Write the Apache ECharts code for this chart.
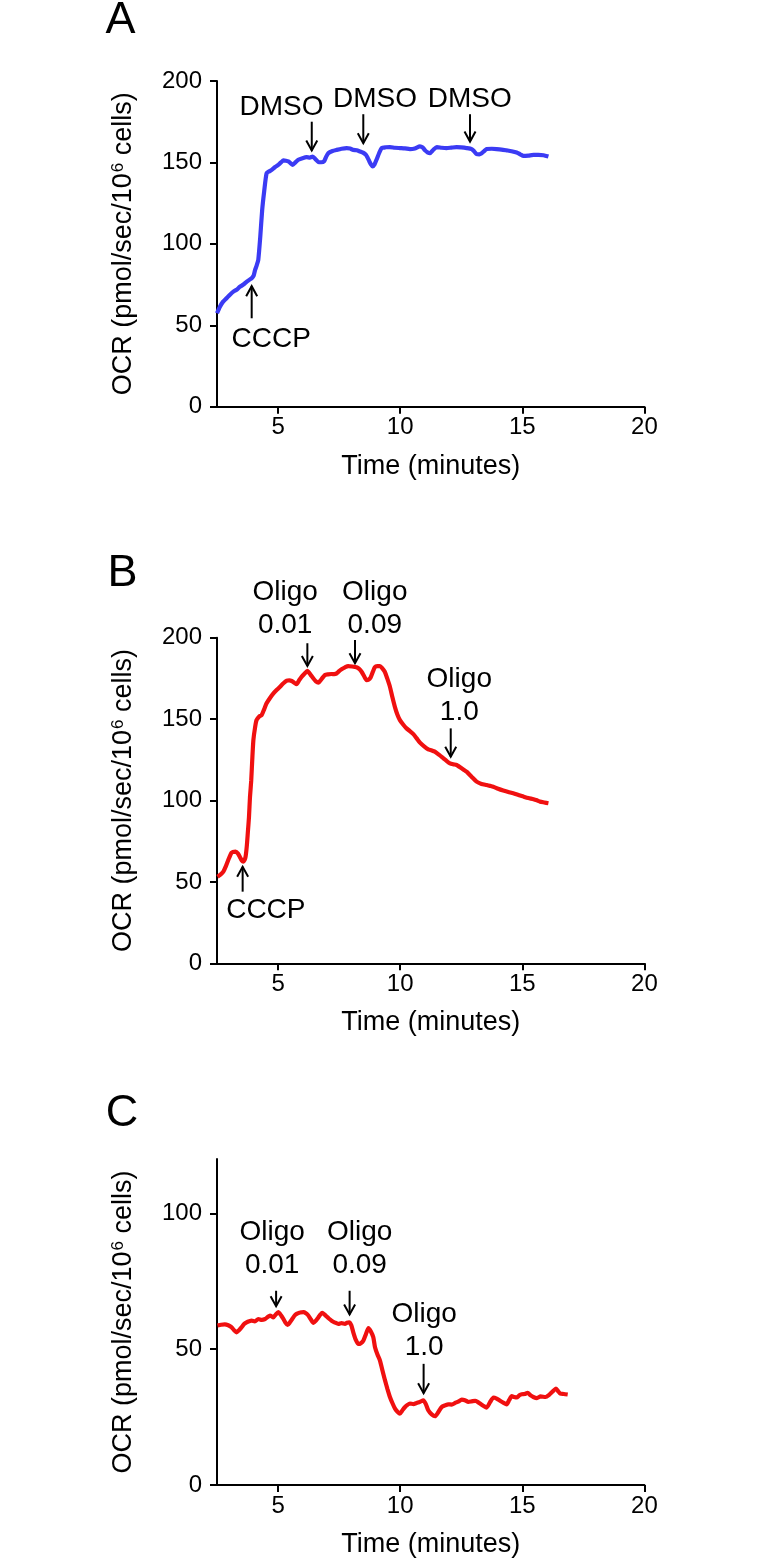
<!DOCTYPE html>
<html>
<head>
<meta charset="utf-8">
<script src="https://cdn.jsdelivr.net/npm/echarts@6/dist/echarts.min.js"></script>
<style>
html,body{margin:0;padding:0;background:#fff;}
#chart{width:770px;height:1567px;}
</style>
</head>
<body>
<div id="chart"></div>
<script>
// ---------- Data (time in minutes, OCR in pmol/sec/10^6 cells) ----------
const timeA = [2.5,2.62,2.75,2.89,3.03,3.17,3.30,3.44,3.58,3.72,
 3.85,3.92,4.0,4.06,4.13,4.19,4.27,4.35,4.43,4.53,
 4.64,4.74,4.88,5.01,5.12,5.22,5.32,5.42,5.51,5.60,
 5.71,5.83,6.0,6.17,6.30,6.42,6.53,6.65,6.77,6.88,
 6.97,7.06,7.23,7.40,7.60,7.81,7.95,8.08,8.22,8.36,
 8.48,8.60,8.67,8.74,8.81,8.87,8.95,9.04,9.14,9.24,
 9.41,9.58,9.78,9.99,10.2,10.40,10.6,10.81,10.92,11.02,
 11.12,11.22,11.36,11.5,11.7,11.9,12.1,12.31,12.5,12.72,
 12.93,13.03,13.13,13.24,13.34,13.44,13.54,13.75,13.95,14.15,
 14.36,14.56,14.77,14.91,15.05,15.25,15.46,15.66,15.87,16.07];
const ocrA = [57.4,61.4,64.5,66.6,68.8,70.7,71.8,73.7,75.0,76.8,
 78.2,78.9,80.5,84,87,90.1,104,120.8,132,143.4,
 144.5,145.4,147.2,148.5,150.0,151.2,151.0,150.6,149.6,148.5,
 150.0,151.6,152.6,153.2,153.0,153.6,152.0,150.2,150.1,150.6,
 153.5,155.7,157.0,157.7,158.4,158.8,158.5,157.7,157.5,156.7,
 156.0,154.6,152.8,150.6,148.6,147.5,148.8,152.0,155.8,158.8,
 159.3,159.4,159.0,158.8,158.6,158.2,158.6,159.9,159.2,157.4,
 156.2,155.7,157.8,159.4,159.0,158.8,159.1,159.4,159.2,158.8,
 158.2,156.8,155.1,155.0,155.7,157.0,158.2,158.4,158.2,157.9,
 157.4,156.9,156.1,155.0,154.0,154.2,154.6,154.6,154.4,153.6];

const timeB = [2.52,2.64,2.76,2.86,2.96,3.1,3.26,3.36,3.44,3.52,
 3.58,3.63,3.67,3.72,3.76,3.81,3.85,3.90,3.95,3.99,
 4.06,4.12,4.22,4.33,4.43,4.53,4.67,4.81,4.95,5.08,
 5.22,5.36,5.46,5.56,5.66,5.76,5.87,5.97,6.09,6.20,
 6.32,6.44,6.55,6.65,6.78,6.92,7.05,7.19,7.30,7.40,
 7.50,7.60,7.74,7.87,8.04,8.21,8.32,8.42,8.52,8.62,
 8.70,8.79,8.88,8.96,9.06,9.17,9.27,9.37,9.47,9.58,
 9.68,9.78,9.88,9.99,10.13,10.26,10.40,10.54,10.67,10.81,
 10.98,11.15,11.28,11.42,11.60,11.77,11.90,12.04,12.18,12.31,
 12.52,12.72,12.93,13.13,13.33,13.54,13.68,13.81,14.01,14.22,
 14.43,14.63,14.84,15.05,15.25,15.46,15.60,15.73,15.90,16.07];
const ocrB = [53.2,54.5,56.3,59.5,63.4,68.0,68.6,67.4,65.2,63.0,
 62.5,63.5,65.5,72,79.8,90,102,112,127,137.2,
 145,149.4,151.5,152.5,156,159.7,163,165.8,168,169.9,
 172,173.6,173.8,173.4,172.4,171.4,174,176.1,178,179.6,
 177.5,175.1,173.2,172.4,174.6,177.1,177.5,177.7,177.6,178.1,
 179.5,180.6,181.8,182.6,182.3,181.8,180.8,179.1,176.5,174,
 174.2,175.6,179,181.8,182.6,182.6,181.2,179.1,175,169.9,
 163.5,157.7,153,149.4,146.5,144.3,142.6,140.8,138.3,135.5,
 133.2,131.4,130.8,130,128,125.9,124.3,122.8,122.2,121.8,
 119.8,117.7,114.5,111.6,110.2,109.5,109,108.5,107.2,106.1,
 105.2,104.4,103.4,102.4,101.5,100.8,100.1,99.3,98.8,98.3];

const timeC = [2.52,2.67,2.82,2.96,3.09,3.20,3.30,3.40,3.51,3.61,
 3.71,3.82,3.92,4.05,4.19,4.33,4.47,4.57,4.67,4.81,
 4.91,5.01,5.12,5.22,5.30,5.39,5.48,5.58,5.67,5.76,
 5.90,6.04,6.14,6.24,6.34,6.45,6.55,6.65,6.73,6.81,
 6.90,6.99,7.09,7.19,7.33,7.47,7.60,7.74,7.82,7.91,
 8.00,8.08,8.18,8.29,8.39,8.49,8.60,8.70,8.80,8.90,
 8.97,9.07,9.17,9.28,9.38,9.48,9.58,9.69,9.79,9.89,
 9.99,10.10,10.20,10.30,10.40,10.54,10.68,10.81,10.95,11.05,
 11.15,11.29,11.43,11.56,11.70,11.84,11.97,12.11,12.25,12.38,
 12.52,12.65,12.79,12.93,13.07,13.17,13.27,13.40,13.54,13.68,
 13.82,13.95,14.09,14.22,14.36,14.46,14.57,14.67,14.77,14.88,
 14.98,15.10,15.22,15.34,15.45,15.60,15.75,15.95,16.10,16.25,
 16.38,16.47,16.56,16.70,16.86];
const ocrC = [58.7,59.0,59.1,58.8,58.1,57.0,56.2,57.0,58.1,59.3,
 59.9,60.3,60.5,60.2,61.1,60.8,61.1,61.8,62.4,61.7,
 62.8,63.6,62.5,61.1,59.8,58.9,59.8,61.1,62.3,63.0,
 63.5,63.6,63.2,62.4,61.0,59.7,60.5,61.7,62.7,63.4,
 62.8,62.0,61.2,60.5,59.8,59.3,59.6,59.3,59.7,59.9,
 58.8,56.2,53.5,51.9,52.2,53.1,55.6,57.8,56.5,54.4,
 50.7,48.0,45.9,42,38.5,35.3,32.4,30,28.1,27.0,
 26.3,27.6,28.7,29.5,30.0,29.8,30.2,30.6,31.2,29.8,
 27.5,26.0,25.3,26.8,28.7,29.3,29.7,29.6,30.2,30.7,
 31.4,31.2,30.6,30.8,31.0,30.6,30.0,29.2,28.5,30.5,
 32.2,31.8,31.0,30.3,29.7,31.2,32.7,32.4,32.2,33.0,
 33.4,33.5,33.9,33.0,32.4,32.0,32.6,32.4,33.2,34.5,
 35.5,34.5,33.6,33.5,33.3];

// x ticks / y ticks
const xTicks = [5, 10, 15, 20];
const yTicksAB = [0, 50, 100, 150, 200];
const yTicksC = [0, 50, 100];

// annotations: [time, arrow tip value, arrow tail value]
const arrowsA = [[3.92, 74, 54.3], [6.38, 157.3, 175], [8.49, 161.8, 179.6], [12.86, 162.8, 179.6]];
const labelPosA = [[4.72, 41.3], [5.14, 183.6], [8.97, 188.8], [12.85, 188.8]];
const labelTextA = ['CCCP', 'DMSO', 'DMSO', 'DMSO'];

const arrowsB = [[3.55, 59.3, 44], [6.20, 182.6, 196.6], [8.15, 184.3, 198.6], [12.07, 126.9, 144.3]];
const labelPosB = [[4.5, 32.7], [5.29, 217.5], [8.96, 217.5], [12.42, 164.3]];
const labelTextB = ['CCCP', 'Oligo\n0.01', 'Oligo\n0.09', 'Oligo\n1.0'];

const arrowsC = [[4.92, 65.8, 71.5], [7.93, 62.8, 71.5], [10.96, 33.8, 44.6]];
const labelPosC = [[4.76, 86.8], [8.34, 86.8], [10.98, 56.6]];
const labelTextC = ['Oligo\n0.01', 'Oligo\n0.09', 'Oligo\n1.0'];

const panelLetters = ['A', 'B', 'C'];

// ---------- Chart ----------
const FONT = "'Liberation Sans', Arial, Helvetica, sans-serif";
const zip = (a, b) => a.map((v, i) => [v, b[i]]);

const grids = [
  {left: 217, top: 81, width: 427.4, height: 325.7},
  {left: 217, top: 637.7, width: 427.4, height: 325.6},
  {left: 217, top: 1159, width: 427.4, height: 326}
];

function xAxis(i) {
  return {
    gridIndex: i, type: 'value', min: 2.5, max: 20,
    name: 'Time (minutes)', nameLocation: 'middle', nameGap: 46,
    nameTextStyle: {fontSize: 27, color: '#000', fontFamily: FONT},
    axisLine: {lineStyle: {color: '#000', width: 2}},
    axisTick: {customValues: xTicks, length: 7, lineStyle: {color: '#000', width: 2}},
    axisLabel: {customValues: xTicks, fontSize: 24, color: '#000', fontFamily: FONT, margin: 9},
    splitLine: {show: false}
  };
}
function yAxis(i, max, ticks) {
  return {
    gridIndex: i, type: 'value', min: 0, max: max,
    name: 'OCR (pmol/sec/10{sup|6} cells)', nameLocation: 'middle', nameGap: 80,
    nameTextStyle: {fontSize: 27, color: '#000', fontFamily: FONT,
      rich: {sup: {fontSize: 17, color: '#000', fontFamily: FONT, verticalAlign: 'top', padding: [0, 0, 0, 1]}}},
    axisLine: {onZero: false, lineStyle: {color: '#000', width: 2}},
    axisTick: {customValues: ticks, length: 7, lineStyle: {color: '#000', width: 2}},
    axisLabel: {customValues: ticks, fontSize: 24, color: '#000', fontFamily: FONT, margin: 15},
    splitLine: {show: false}
  };
}

function lineSeries(i, t, v, color) {
  return {
    type: 'line', xAxisIndex: i, yAxisIndex: i, data: zip(t, v),
    showSymbol: false, smooth: 0.2, clip: false,
    lineStyle: {color: color, width: 4.2}, itemStyle: {color: color},
    z: 3
  };
}

function arrowSeries(i, arr) {
  return {
    type: 'custom', xAxisIndex: i, yAxisIndex: i, data: arr, clip: false, z: 4,
    silent: true,
    renderItem: function (params, api) {
      const tip = api.coord([api.value(0), api.value(1)]);
      const tail = api.coord([api.value(0), api.value(2)]);
      const s = tail[1] > tip[1] ? 1 : -1;
      return {
        type: 'group',
        children: [
          {type: 'line', shape: {x1: tip[0], y1: tail[1], x2: tip[0], y2: tip[1]},
           style: {stroke: '#000', lineWidth: 2}},
          {type: 'polyline', shape: {points: [[tip[0] - 5.5, tip[1] + s * 10], [tip[0], tip[1]], [tip[0] + 5.5, tip[1] + s * 10]]},
           style: {stroke: '#000', lineWidth: 2, fill: null}}
        ]
      };
    }
  };
}

function labelSeries(i, pos, texts) {
  return {
    type: 'custom', xAxisIndex: i, yAxisIndex: i, data: pos, clip: false, z: 5,
    silent: true,
    renderItem: function (params, api) {
      const p = api.coord([api.value(0), api.value(1)]);
      return {
        type: 'text', x: p[0], y: p[1],
        style: {text: texts[params.dataIndex], fill: '#000', fontSize: 28, fontFamily: FONT,
                align: 'center', verticalAlign: 'middle', lineHeight: 33}
      };
    }
  };
}

const chart = echarts.init(document.getElementById('chart'), null, {renderer: 'canvas'});
chart.setOption({
  backgroundColor: '#fff',
  animation: false,
  grid: grids,
  xAxis: [xAxis(0), xAxis(1), xAxis(2)],
  yAxis: [yAxis(0, 200, yTicksAB), yAxis(1, 200, yTicksAB), yAxis(2, 120, yTicksC)],
  graphic: [
    {type: 'text', x: 120.5, y: 20.5, style: {text: panelLetters[0], fontSize: 45, fontFamily: FONT, fill: '#000', align: 'center', verticalAlign: 'middle'}},
    {type: 'text', x: 122.4, y: 573.5, style: {text: panelLetters[1], fontSize: 45, fontFamily: FONT, fill: '#000', align: 'center', verticalAlign: 'middle'}},
    {type: 'text', x: 122, y: 1113.5, style: {text: panelLetters[2], fontSize: 45, fontFamily: FONT, fill: '#000', align: 'center', verticalAlign: 'middle'}}
  ],
  series: [
    lineSeries(0, timeA, ocrA, '#3b3bf4'),
    lineSeries(1, timeB, ocrB, '#f01010'),
    lineSeries(2, timeC, ocrC, '#f01010'),
    arrowSeries(0, arrowsA), labelSeries(0, labelPosA, labelTextA),
    arrowSeries(1, arrowsB), labelSeries(1, labelPosB, labelTextB),
    arrowSeries(2, arrowsC), labelSeries(2, labelPosC, labelTextC)
  ]
});
</script>
</body>
</html>
